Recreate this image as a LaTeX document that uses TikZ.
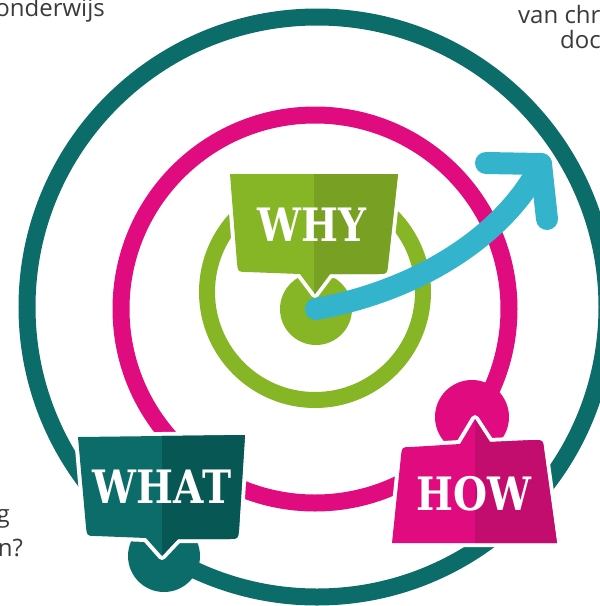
\documentclass[tikz,border=0pt]{standalone}
\usepackage{fontspec}
\setmainfont{Open Sans}
\newfontfamily\slabfont{DejaVu Serif}[FakeStretch=0.85]

\definecolor{tealring}{HTML}{0B6C69}
\definecolor{tealdark}{HTML}{075755}
\definecolor{pinkring}{HTML}{E00B7F}
\definecolor{pinkdark}{HTML}{C20D6E}
\definecolor{greenring}{HTML}{86B526}
\definecolor{greendark}{HTML}{78A124}
\definecolor{arrowblue}{HTML}{33B4CC}
\definecolor{notegrey}{HTML}{3A3A3A}

\def\ringwidth{17pt}

% sign with white edge, light left half and dark right half
\newcommand{\signbox}[4]{%
  \draw[cutout] #1;
  \fill[#2] #1;
  \begin{scope}
    \clip #1;
    \fill[#3] (#4,0) rectangle (600,606);
  \end{scope}
}

\begin{document}
\begin{tikzpicture}[x=1pt,y=-1pt]
    \tikzstyle{ring}=[line width=\ringwidth]
    \tikzstyle{dot}=[circle,inner sep=0pt]
    \tikzstyle{cutout}=[draw=white,line width=8pt,line join=round]
    \tikzstyle{sign text}=[text=white,inner sep=0pt,font=\slabfont\bfseries\fontsize{46}{46}\selectfont]
    \tikzstyle{side note}=[text=notegrey,inner sep=0pt,font=\fontsize{24}{27}\selectfont]
    \tikzstyle{arrow line}=[draw=arrowblue,line width=22pt,line cap=round,line join=round]

    \useasboundingbox (0,0) rectangle (600,606);

    % Draw the three rings
    \draw[ring,tealring] (317,307) circle[radius=290pt];
    \draw[ring,pinkring] (315,309) circle[radius=194pt];
    \draw[ring,greenring,line width=16pt] (315,292) circle[radius=108pt];

    % Draw the dots on the rings
    \node[dot,fill=greenring,minimum size=72pt] (why dot) at (316,309) {};
    \node[dot,fill=pinkring,minimum size=74pt] (how dot) at (472,417) {};
    \node[dot,fill=tealring,minimum size=72pt] (what dot) at (164,556) {};

    % Draw the signs
    \signbox{(230,174) -- (398,174) -- (388,265) .. controls (387,274) .. (378,274)
      -- (330,274) -- (315,294) -- (300,274) -- (247,272) .. controls (238,272) .. (237,263) -- cycle}
      {greenring}{greendark}{314}
    \signbox{(78,437) -- (245,435) -- (239,530) .. controls (238,539) .. (229,539)
      -- (178,539) -- (162,556) -- (146,538) -- (96,536) .. controls (87,536) .. (86,527) -- cycle}
      {tealring}{tealdark}{162}
    \signbox{(392,543) -- (401,456) .. controls (402,447) .. (411,447) -- (460,444)
      -- (475,419) -- (490,442) -- (534,440) .. controls (543,440) .. (544,449) -- (557,543) -- cycle}
      {pinkring}{pinkdark}{475}

    \node[sign text] (why) at (312,225) {WHY};
    \node[sign text] (what) at (162,487) {WHAT};
    \node[sign text] (how) at (474,494) {HOW};

    % Draw the arrow out of the centre
    \coordinate (arrow tip) at (541,164);
    \draw[arrow line] (why dot.center) .. controls (420,290) and (505,235) .. (arrow tip);
    \draw[arrow line] (486,163) -- (arrow tip) -- (547,219);

    % Side notes cut off by the edges
    \node[side note,anchor=base east] (school) at (105,16) {onderwijs};
    \node[side note,anchor=base west] (van) at (518,23) {van chr};
    \node[side note,anchor=base west] (doc) at (560,48) {doc};
    \node[side note,anchor=base east] (g line) at (10,522) {g};
    \node[side note,anchor=base east] (n line) at (23,556) {n?};
\end{tikzpicture}
\end{document}
